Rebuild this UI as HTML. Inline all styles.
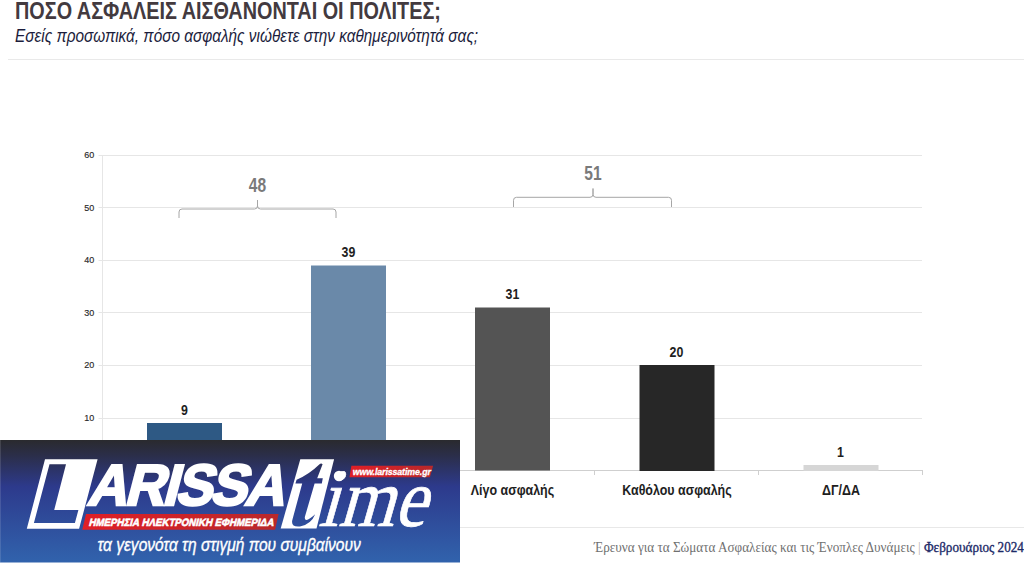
<!DOCTYPE html>
<html><head><meta charset="utf-8">
<style>
html,body{margin:0;padding:0;background:#fff;width:1024px;height:564px;overflow:hidden;position:relative;font-family:"Liberation Sans",sans-serif;}
.abs{position:absolute;white-space:nowrap;}
#title{left:15px;top:-2px;font-size:23.7px;font-weight:bold;color:#433a3f;line-height:26px;transform:scaleX(0.837);transform-origin:0 0;}
#sub{left:15px;top:25px;font-size:18px;font-style:italic;color:#1c1d3c;line-height:22px;transform:scaleX(0.853);transform-origin:0 0;}
#sep{left:8px;top:59px;width:1016px;height:1px;background:#e9e9e9;}
#foot{left:594px;top:538px;font-family:"Liberation Serif",serif;font-size:14.3px;color:#707070;line-height:18px;transform:scaleX(0.921);transform-origin:0 0;}
#foot b{color:#1c2a68;font-weight:normal;-webkit-text-stroke:0.35px #1c2a68;}
#foot i{font-style:normal;color:#b8b0a8;}
#fsep{left:0;top:527px;width:1024px;height:1px;background:#e8e8e8;}
svg{position:absolute;left:0;top:0;}
</style></head><body>
<div class="abs" id="title">ΠΟΣΟ ΑΣΦΑΛΕΙΣ ΑΙΣΘΑΝΟΝΤΑΙ ΟΙ ΠΟΛΙΤΕΣ;</div>
<div class="abs" id="sub">Εσείς προσωπικά, πόσο ασφαλής νιώθετε στην καθημερινότητά σας;</div>
<div class="abs" id="sep"></div>
<div class="abs" id="fsep"></div>
<div class="abs" id="foot">Έρευνα για τα Σώματα Ασφαλείας και τις Ένοπλες Δυνάμεις <i>|</i> <b>Φεβρουάριος 2024</b></div>

<svg width="1024" height="564" viewBox="0 0 1024 564">
 <g stroke="#e6e6e6" stroke-width="1">
  <line x1="98.5" y1="155.5" x2="922" y2="155.5"/>
  <line x1="98.5" y1="207.5" x2="922" y2="207.5"/>
  <line x1="98.5" y1="260.5" x2="922" y2="260.5"/>
  <line x1="98.5" y1="312.5" x2="922" y2="312.5"/>
  <line x1="98.5" y1="365.5" x2="922" y2="365.5"/>
  <line x1="98.5" y1="418.5" x2="922" y2="418.5"/>
  <line x1="102.5" y1="155" x2="102.5" y2="471"/>
 </g>
 <g stroke="#cfcfcf" stroke-width="1">
  <line x1="98.5" y1="470.5" x2="923" y2="470.5"/>
  <line x1="266.5" y1="470" x2="266.5" y2="475"/>
  <line x1="430.5" y1="470" x2="430.5" y2="475"/>
  <line x1="594.5" y1="470" x2="594.5" y2="475"/>
  <line x1="758.5" y1="470" x2="758.5" y2="475"/>
  <line x1="922.5" y1="470" x2="922.5" y2="475"/>
 </g>
 <g font-family="Liberation Sans" font-size="9" fill="#2a2a2a" stroke="#2a2a2a" stroke-width="0.15" text-anchor="end">
  <text x="94.2" y="158.3">60</text>
  <text x="94.2" y="210.8">50</text>
  <text x="94.2" y="263.3">40</text>
  <text x="94.2" y="315.9">30</text>
  <text x="94.2" y="368.4">20</text>
  <text x="94.2" y="421">10</text>
 </g>
 <rect x="147" y="423" width="75" height="48" fill="#2e5984"/>
 <rect x="311" y="265.5" width="75" height="205" fill="#6a89a9"/>
 <rect x="475" y="307.5" width="75" height="163" fill="#545454"/>
 <rect x="639.5" y="365" width="75" height="106" fill="#272727"/>
 <rect x="803.5" y="465" width="75" height="6" fill="#d6d6d6"/>
 <g font-family="Liberation Sans" font-weight="bold" font-size="14.9" fill="#1e1e1e" text-anchor="middle">
  <text x="184.5" y="415" transform="translate(184.5 0) scale(0.83 1) translate(-184.5 0)">9</text>
  <text x="348.5" y="257.5" transform="translate(348.5 0) scale(0.83 1) translate(-348.5 0)">39</text>
  <text x="512.5" y="299.5" transform="translate(512.5 0) scale(0.83 1) translate(-512.5 0)">31</text>
  <text x="676.5" y="357.5" transform="translate(676.5 0) scale(0.83 1) translate(-676.5 0)">20</text>
  <text x="840.5" y="457.5" transform="translate(840.5 0) scale(0.83 1) translate(-840.5 0)">1</text>
 </g>
 <g font-family="Liberation Sans" font-weight="bold" font-size="14.3" fill="#1e1e1e" text-anchor="middle">
  <text x="512.5" y="494.6" transform="translate(512.5 0) scale(0.87 1) translate(-512.5 0)">Λίγο ασφαλής</text>
  <text x="677" y="494.6" transform="translate(677 0) scale(0.87 1) translate(-677 0)">Καθόλου ασφαλής</text>
  <text x="841" y="494.6" transform="translate(841 0) scale(0.87 1) translate(-841 0)">ΔΓ/ΔΑ</text>
 </g>
 <g fill="none" stroke="#a6a6a6" stroke-width="1">
  <path d="M179 218 L179 212 Q179 209 182 209 L254.5 209 Q257.5 209 257.5 206 L257.5 200 L257.5 206 Q257.5 209 260.5 209 L333 209 Q336 209 336 212 L336 218"/>
  <path d="M513.5 207 L513.5 200.3 Q513.5 197.3 516.5 197.3 L590 197.3 Q593 197.3 593 194.3 L593 188.5 L593 194.3 Q593 197.3 596 197.3 L668.5 197.3 Q671.5 197.3 671.5 200.3 L671.5 207"/>
 </g>
 <g font-family="Liberation Sans" font-weight="bold" font-size="19.5" fill="#7a7a7a" text-anchor="middle">
  <text x="257.5" y="192" transform="translate(257.5 0) scale(0.8 1) translate(-257.5 0)">48</text>
  <text x="593" y="180" transform="translate(593 0) scale(0.8 1) translate(-593 0)">51</text>
 </g>
</svg>

<!-- LOGO BANNER -->
<svg width="460" height="124" viewBox="0 0 460 124" style="left:0;top:440px;">
 <defs>
  <linearGradient id="bg" gradientUnits="userSpaceOnUse" x1="0" y1="0" x2="0" y2="123">
   <stop offset="0" stop-color="#2a2a2e"/>
   <stop offset="0.12" stop-color="#2b2e48"/>
   <stop offset="0.38" stop-color="#2d3a8c"/>
   <stop offset="1" stop-color="#3163ad"/>
  </linearGradient>
  <linearGradient id="red" x1="0" y1="0" x2="1" y2="0">
   <stop offset="0" stop-color="#e01f26"/>
   <stop offset="1" stop-color="#b8282b"/>
  </linearGradient>
 </defs>
 <rect x="0" y="0" width="460" height="122.5" fill="url(#bg)"/>
 <rect x="0" y="0" width="1" height="122.5" fill="#fff" fill-opacity="0.12"/>
 <!-- L frame -->
 <path fill="#fff" fill-rule="evenodd" d="M45 19.3 L97.6 19.3 L79.1 88.8 L26.8 88.8 Z M49.5 24.3 L66 24.3 L54.2 70 L78.4 70 L74.9 83 L33.9 83 Z"/>
 <!-- ARISSA -->
 <g transform="translate(86 65.4) skewX(-14.6)">
  <text x="0" y="-0.8" font-family="Liberation Sans" font-weight="bold" font-size="58" fill="#fff" stroke="#fff" stroke-width="2.4" stroke-linejoin="miter" transform="scale(0.956 1)" letter-spacing="-2.5">ARISSA</text>
 </g>
 <!-- red bar -->
 <path fill="url(#red)" d="M86 74 L278.6 74 L275.1 89.7 L82.25 89.7 Z"/>
 <g transform="translate(88.5 85.8) skewX(-14)">
  <text x="0" y="0" font-family="Liberation Sans" font-weight="bold" font-size="10.5" fill="#fff" stroke="#fff" stroke-width="0.6" transform="scale(0.922 1)">ΗΜΕΡΗΣΙΑ ΗΛΕΚΤΡΟΝΙΚΗ ΕΦΗΜΕΡΙΔΑ</text>
 </g>
 <!-- t box -->
 <path fill="#fff" d="M300.3 19.3 L334.1 19.3 L316.5 88.5 L280.7 88.5 Z"/>
 <path fill="url(#bg)" d="M319.5 24.2 Q321.3 23 322.6 24.3 L317.2 38.3 L322.8 38.3 L321.8 43.4 L314.6 43.4 L304.9 76.8 Q304.3 80.2 306.8 80 Q310 79 315.2 74.2 Q311 84.5 300 86.4 Q291 87.3 292.2 80.5 L302.2 43.4 L295.4 43.4 L296.6 39.8 Q309.5 34 319.5 24.2 Z"/>
 <!-- ime -->
 <g transform="translate(318 86.4) skewX(-16) scale(0.87 1)">
  <text x="0" y="0" font-family="Liberation Serif" font-size="82.5" fill="#fff" stroke="#fff" stroke-width="0.7">ime</text>
 </g>
 <circle cx="339" cy="36" r="5.2" fill="#fff"/>
 <!-- www bar -->
 <path fill="url(#red)" d="M351.4 25.7 L433.1 25.7 L429.9 37.2 L349.5 37.2 Z"/>
 <text x="352.7" y="34.7" font-family="Liberation Sans" font-weight="bold" font-style="italic" font-size="8.8" letter-spacing="-0.1" fill="#fff" stroke="#fff" stroke-width="0.3">www.larissatime.gr</text>
 <!-- tagline -->
 <text x="97.5" y="111.2" font-family="Liberation Sans" font-style="italic" font-size="18.3" fill="#fff" stroke="#fff" stroke-width="0.35" transform="translate(97.5 0) scale(0.85 1) translate(-97.5 0)">τα γεγονότα τη στιγμή που συμβαίνουν</text>
</svg>
</body></html>
